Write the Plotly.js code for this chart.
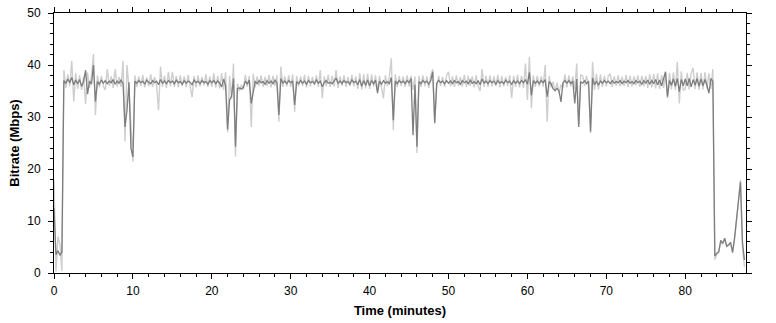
<!DOCTYPE html>
<html>
<head>
<meta charset="utf-8">
<script src="https://cdn.plot.ly/plotly-3.0.1.min.js"></script>
<style>html,body{margin:0;padding:0;background:#fff;}#chart{width:776px;height:323px;}</style>
</head>
<body>
<div id="chart"></div>
<script>
// Sampling grid of the bitrate log (minutes)
const SAMPLE_STEP = 0.25;

// Light trace: raw per-sample bitrate (Mbps)
const lightBitrate = [
  17.9,0.3,7.0,5.5,0.4,39.0,35.6,38.2,35.9,40.8,33.0,38.4,35.4,38.0,35.2,37.8,32.5,38.6,35.6,37.9,
  42.1,30.4,38.0,35.7,37.9,35.9,35.2,39.2,36.0,37.8,35.6,39.2,35.9,37.7,35.8,40.8,25.3,40.0,35.6,28.5,
  21.4,38.0,35.8,37.8,36.0,38.1,35.7,37.6,35.9,38.2,35.8,37.7,36.1,31.3,39.7,35.8,37.9,35.6,38.7,35.9,
  38.7,35.8,37.9,35.7,38.0,36.0,37.8,35.8,38.1,35.9,33.8,37.9,35.7,38.0,35.9,37.7,36.1,38.2,35.8,37.8,
  35.8,38.4,35.7,37.9,35.5,38.4,35.2,38.6,27.0,37.9,33.5,40.3,22.4,36.4,35.0,36.2,35.2,38.1,35.8,37.9,
  28.1,38.3,35.7,37.8,36.0,38.0,35.8,37.7,35.9,38.1,35.7,37.9,36.0,38.0,29.1,39.7,35.8,37.8,35.9,38.0,
  35.8,38.2,31.0,37.9,35.9,37.8,36.0,38.1,35.7,37.9,35.9,37.7,36.1,38.0,35.8,39.0,33.6,37.8,35.9,38.1,
  35.8,37.9,35.9,39.0,35.6,37.8,36.0,38.0,35.8,37.7,36.0,38.1,35.9,37.8,35.4,38.4,35.3,38.2,35.5,38.3,
  35.4,38.2,35.8,38.0,35.0,37.9,35.7,33.6,38.0,35.9,37.8,41.3,27.5,38.2,35.8,37.9,36.0,37.8,35.8,38.0,
  35.9,37.9,35.2,37.8,23.1,37.9,35.8,38.0,35.9,37.8,35.6,38.1,39.2,29.0,35.8,37.9,36.0,37.7,35.8,38.0,
  38.7,35.9,37.8,35.8,38.0,36.0,37.7,35.9,38.1,35.8,37.9,36.0,37.8,35.7,38.0,35.9,35.0,39.2,35.8,37.9,
  35.8,38.0,35.9,37.8,36.0,38.1,35.7,37.9,35.9,37.7,36.0,38.0,33.6,37.9,35.8,38.1,35.7,37.9,35.6,40.3,
  33.3,41.6,31.7,38.0,35.8,37.9,35.9,37.8,35.8,40.0,29.1,37.9,35.7,36.8,34.8,36.6,34.6,36.2,35.6,38.2,
  35.7,38.0,35.9,37.8,35.4,40.3,28.5,38.1,37.9,36.0,37.9,35.8,26.9,40.6,35.2,38.3,35.3,38.2,35.8,37.9,
  35.9,37.9,38.3,35.8,37.8,36.0,38.0,35.9,37.7,36.0,38.1,35.8,37.9,35.9,37.8,36.1,38.0,35.8,37.9,35.9,
  37.9,35.6,38.2,35.7,38.3,35.5,38.4,35.4,38.1,35.6,38.4,33.6,38.5,35.3,38.6,35.2,40.6,32.6,38.8,35.1,
  35.4,38.5,35.3,38.4,39.4,35.4,38.6,35.2,38.5,35.3,38.6,35.5,38.4,35.4,39.2,2.6,3.6,4.4,5.9,5.6,
  6.5,5.3,5.5,5.7,4.2,6.4,10.0,13.4,17.9,5.0,1.2
];

// Dark trace: averaged bitrate (Mbps)
const darkBitrate = [
  12.5,3.5,4.3,3.4,4.0,37.0,36.5,37.3,36.6,37.6,36.2,37.1,36.4,37.2,35.9,36.8,39.0,34.4,36.9,36.3,
  40.0,33.0,36.8,36.3,37.1,36.5,37.0,36.4,36.9,36.6,37.2,36.3,36.9,36.5,37.1,36.4,28.1,31.3,36.7,24.0,
  22.3,36.9,36.5,37.0,36.6,36.9,36.3,37.1,36.7,36.4,37.0,36.6,36.9,36.2,37.2,36.5,36.9,36.4,37.0,36.6,
  36.9,36.4,37.1,36.6,36.8,36.3,37.0,36.5,36.9,36.7,36.2,37.1,36.6,36.9,36.4,37.0,36.6,36.8,36.3,37.0,
  36.6,37.0,36.4,36.9,36.5,35.8,37.3,36.0,27.6,33.3,34.0,37.4,24.3,35.5,35.6,35.4,35.7,36.9,36.3,37.1,
  32.6,34.5,36.9,36.4,37.0,36.6,36.8,36.3,37.0,36.5,36.9,36.4,37.1,36.6,30.4,37.4,36.5,36.9,36.4,37.0,
  36.6,36.9,32.3,36.8,36.4,37.0,36.5,36.9,36.3,37.0,36.6,36.8,36.4,37.1,36.5,36.9,35.8,36.6,37.0,36.5,
  36.7,36.4,37.0,37.5,36.5,36.9,36.4,37.0,36.6,36.8,36.3,37.1,36.6,36.9,36.2,37.2,35.9,37.0,36.1,37.1,
  36.0,37.0,36.4,37.1,34.6,36.9,36.3,37.0,36.5,36.8,36.4,37.6,29.4,36.9,36.4,37.0,36.6,36.9,36.4,37.0,
  36.6,37.4,26.5,36.2,24.3,36.8,36.4,37.0,36.6,36.9,36.3,37.0,38.7,28.8,36.5,37.0,36.6,36.9,36.4,37.0,
  36.5,36.9,36.4,37.0,36.6,36.8,36.3,37.0,36.6,36.9,36.4,37.1,36.5,36.8,36.4,37.0,36.2,37.3,36.5,36.9,
  36.4,37.0,36.6,36.9,36.3,37.0,36.5,36.8,36.4,37.1,36.6,36.9,36.3,37.0,36.5,36.9,36.4,37.0,36.6,37.2,
  36.3,38.6,34.2,37.0,36.5,36.9,36.4,37.0,36.6,37.2,33.9,36.8,36.4,35.4,35.1,35.5,35.0,32.9,36.6,37.0,
  36.5,37.0,36.4,36.9,32.6,37.3,28.1,36.8,36.5,37.0,36.4,36.9,27.2,37.5,36.2,36.8,36.1,36.9,36.5,37.0,
  36.6,36.9,36.4,37.0,36.5,36.8,36.6,37.0,36.4,36.9,36.6,37.0,36.5,36.8,36.4,37.0,36.6,36.9,36.3,37.0,
  36.5,37.1,36.3,37.0,36.4,37.2,36.2,37.1,36.0,37.3,38.7,33.9,37.0,36.1,37.3,35.9,37.4,34.9,37.2,36.0,
  37.3,36.0,37.4,35.8,37.2,36.1,37.4,35.9,37.3,36.0,37.2,36.1,34.6,37.4,36.9,3.3,3.8,4.0,6.3,5.7,
  6.7,5.1,5.4,5.9,3.9,6.8,10.2,13.0,17.5,6.0,2.5
];

const X_RANGE = [0, 87.7];
const Y_RANGE = [0, 50];
const X_TITLE = 'Time (minutes)';
const Y_TITLE = 'Bitrate (Mbps)';

const minutes = darkBitrate.map((_, i) => i * SAMPLE_STEP);

const FONT = 'Liberation Sans, Arial, sans-serif';
const tickFont = {family: FONT, size: 12, color: '#000'};

const traces = [
  {x: minutes, y: lightBitrate, type: 'scatter', mode: 'lines',
   line: {color: 'rgb(206,206,206)', width: 1.4}, hoverinfo: 'skip'},
  {x: minutes, y: darkBitrate, type: 'scatter', mode: 'lines',
   line: {color: 'rgb(125,125,125)', width: 1.3}, hoverinfo: 'skip'}
];

const baseAxis = {
  showgrid: false, zeroline: false, showline: true, linecolor: '#000', linewidth: 1,
  ticks: 'outside', ticklen: 5, tickwidth: 1, tickcolor: '#000', mirror: 'ticks',
  dtick: 10, tick0: 0,
  minor: {dtick: 2, ticks: 'outside', ticklen: 3, tickcolor: '#000', showgrid: false},
  tickfont: tickFont, fixedrange: true
};

const layout = {
  width: 776, height: 323,
  margin: {l: 54, r: 30, t: 13, b: 50, pad: 0},
  paper_bgcolor: '#fff', plot_bgcolor: '#fff',
  showlegend: false, hovermode: false,
  xaxis: Object.assign({}, baseAxis, {
    range: X_RANGE, ticklabelstandoff: 2,
    title: {text: X_TITLE, font: {family: FONT, size: 13, color: '#000', weight: 'bold'}, standoff: 8}
  }),
  xaxis2: Object.assign({}, baseAxis, {
    range: X_RANGE, overlaying: 'x', anchor: 'y', side: 'bottom',
    ticks: 'inside', ticklen: 2, showticklabels: false, showline: false,
    minor: {dtick: 2, ticks: 'inside', ticklen: 1, tickcolor: '#000', showgrid: false}
  }),
  yaxis: Object.assign({}, baseAxis, {
    range: Y_RANGE, ticklabelstandoff: 5,
    title: {text: Y_TITLE, font: {family: FONT, size: 13, color: '#000', weight: 'bold'}, standoff: 4}
  }),
  yaxis2: Object.assign({}, baseAxis, {
    range: Y_RANGE, overlaying: 'y', anchor: 'x', side: 'right',
    ticks: '', showline: false, ticklabelstandoff: 8,
    minor: {ticks: ''}
  }),
  yaxis3: Object.assign({}, baseAxis, {
    range: Y_RANGE, overlaying: 'y', anchor: 'x', side: 'left',
    ticks: 'inside', ticklen: 3, showticklabels: false, showline: false,
    minor: {dtick: 2, ticks: 'inside', ticklen: 2, tickcolor: '#000', showgrid: false}
  })
};

Plotly.newPlot('chart', traces, layout, {displayModeBar: false, staticPlot: true});
</script>
</body>
</html>
